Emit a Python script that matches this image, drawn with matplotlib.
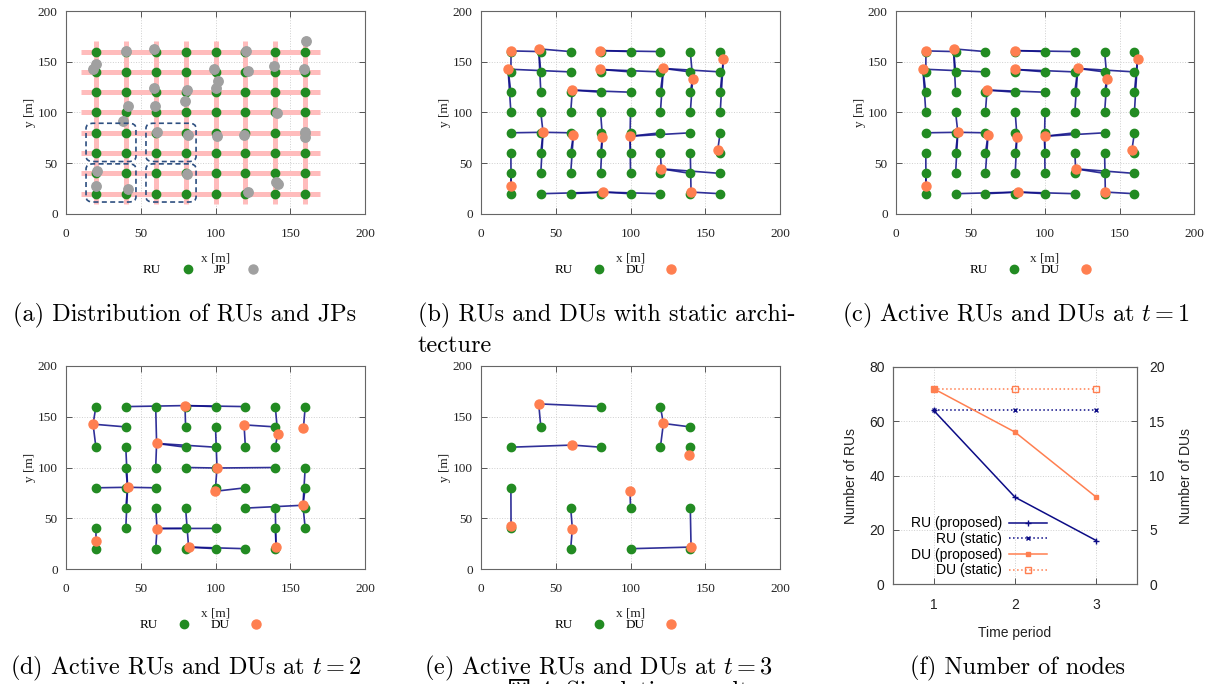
import matplotlib
matplotlib.use("Agg")
import matplotlib.pyplot as plt
from matplotlib.lines import Line2D
from matplotlib.patches import FancyBboxPatch

# ---- data ----
grid_x = [20, 40, 60, 80, 100, 120, 140, 160]
grid_y = [160, 140, 120, 100, 80, 60, 40, 20]   # rows, top to bottom
fiber_min, fiber_max = 10, 170

# join points (panel a)
jp_x = [160.3, 40.1, 58.9, 120.2, 18.3, 19.8, 99.2, 122.0, 138.9, 159.4, 101.9, 100.3,
        58.9, 80.9, 79.8, 41.7, 59.5, 38.4, 140.9, 60.6, 81.8, 101.0, 118.8, 159.6,
        160.1, 20.5, 80.7, 140.5, 142.0, 20.3, 41.7, 122.0]
jp_y = [170.5, 160.7, 162.7, 160.7, 142.7, 147.3, 142.4, 140.8, 146.0, 142.4, 130.6, 123.7,
        124.4, 122.1, 111.6, 106.7, 106.1, 92.0, 99.8, 80.9, 77.6, 76.9, 77.6, 80.9,
        76.3, 42.2, 39.9, 31.4, 30.0, 27.8, 24.5, 21.6]

# dashed cluster boxes (panel a)
box_x0 = [13.4, 53.5, 13.4, 53.5]
box_x1 = [46.8, 87.0, 46.8, 87.0]
box_y0 = [51.7, 51.7, 11.8, 11.8]
box_y1 = [89.4, 89.4, 49.4, 49.4]

# static architecture / t=1 : DU positions and serving DU (1-based) of every grid RU
du_static_x = [20.1, 38.6, 79.8, 18.1, 79.8, 122.0, 162.1, 141.6, 61.1, 41.5, 61.8, 81.2,
               99.7, 158.3, 120.6, 20.1, 81.8, 140.5]
du_static_y = [160.7, 162.7, 161.0, 142.7, 142.4, 143.4, 152.5, 133.2, 122.1, 80.5, 77.9, 76.3,
               76.6, 62.8, 44.5, 27.8, 21.6, 21.6]
ru_du_static = [
    [1, 1, 2, 3, 3, 3, 8, 7],
    [1, 2, 4, 5, 5, 5, 6, 6],
    [4, 2, 9, 9, 9, 6, 8, 7],
    [4, 10, 9, 12, 13, 6, 8, 7],
    [10, 10, 10, 12, 13, 13, 13, 14],
    [16, 10, 11, 12, 13, 15, 18, 14],
    [16, 10, 11, 12, 13, 15, 15, 15],
    [16, 17, 17, 17, 17, 17, 18, 18],
]

# t = 2
t2_ru_x = [20, 40, 60, 80, 100, 120, 140, 160,
           40, 80, 100, 140,
           20, 40, 80, 100, 120, 140,
           40, 60, 80, 100, 140, 160,
           20, 40, 60, 100, 120, 160,
           40, 60, 80, 120, 140, 160,
           20, 40, 80, 100, 140, 160,
           20, 60, 80, 100, 120, 140]
t2_ru_y = [160] * 8 + [140] * 4 + [120] * 6 + [100] * 6 + [80] * 6 + [60] * 6 + [40] * 6 + [20] * 6
t2_ru_du = [1, 2, 3, 2, 2, 2, 5, 6,
            1, 2, 7, 4,
            1, 8, 3, 3, 4, 5,
            8, 3, 7, 7, 7, 10,
            8, 8, 8, 7, 9, 10,
            8, 11, 13, 10, 14, 10,
            12, 8, 11, 11, 14, 10,
            12, 11, 13, 13, 13, 14]
t2_du_x = [18.1, 79.6, 60.6, 119.1, 141.6, 158.8, 101.0, 41.2, 99.9, 158.5, 60.9, 20.1, 82.0, 140.5]
t2_du_y = [142.7, 161.0, 123.7, 142.0, 133.2, 138.5, 99.5, 80.5, 76.6, 62.8, 39.9, 27.8, 21.6, 21.6]

# t = 3
t3_ru_x = [80, 40, 20, 80, 120, 140, 120, 140, 20, 20, 60, 60, 100, 100, 140, 140]
t3_ru_y = [160, 140, 120, 120, 160, 140, 120, 120, 80, 40, 60, 20, 60, 20, 60, 20]
t3_ru_du = [1, 1, 2, 2, 3, 3, 3, 4, 5, 5, 6, 6, 7, 8, 8, 8]
t3_du_x = [38.6, 61.1, 122.0, 139.4, 20.1, 61.1, 99.7, 140.5]
t3_du_y = [162.7, 122.1, 143.4, 112.6, 41.9, 39.9, 76.6, 21.6]

# panel f
periods = [1, 2, 3]
ru_proposed = [64, 32, 16]
ru_static = [64, 64, 64]
du_proposed = [18, 14, 8]
du_static = [18, 18, 18]

GREEN = '#228b22'
ORANGE = '#ff7f50'
GRAY = '#a0a0a0'
NAVY = '#0c0c86'
SERIF = 'Liberation Serif'
SANS = 'Liberation Sans'

plt.rcParams['mathtext.fontset'] = 'cm'
plt.rcParams['font.family'] = SERIF

W, H = 1216, 684
fig = plt.figure(figsize=(W / 100, H / 100), dpi=100)


def px_axes(l, t, r, b):
    return fig.add_axes([l / W, 1 - b / H, (r - l) / W, (b - t) / H])


def style_map(ax, second_label, second_color):
    ax.set_xlim(0, 200)
    ax.set_ylim(0, 200)
    ax.set_xticks(range(0, 201, 50))
    ax.set_yticks(range(0, 201, 50))
    ax.tick_params(direction='in', top=True, right=True, length=4, width=0.7,
                   color='#555555', labelsize=9.5, labelcolor='#222222')
    ax.tick_params(axis='x', pad=10)
    ax.tick_params(axis='y', pad=6)
    ax.grid(True, ls=':', color='#cfcfcf', lw=0.7)
    ax.set_axisbelow(True)
    for s in ax.spines.values():
        s.set_color('#666666')
        s.set_linewidth(0.8)
    ax.set_xlabel('x [m]', fontsize=9.5, labelpad=9, color='#222222')
    ax.set_ylabel('y [m]', fontsize=9.5, labelpad=1, color='#222222')
    handles = [Line2D([], [], ls='', marker='o', ms=6, color=GREEN),
               Line2D([], [], ls='', marker='o', ms=6.5, color=second_color)]
    ax.legend(handles, ['RU', second_label], ncol=2, markerfirst=False, frameon=False,
              loc='center', bbox_to_anchor=(0.45, -0.276), fontsize=9.5,
              handlelength=0.8, handletextpad=1.6, columnspacing=1.6, borderpad=0)


def draw_network(ax, rx, ry, rdu, dx, dy):
    for x, y, d in zip(rx, ry, rdu):
        ax.plot([x, dx[d - 1]], [y, dy[d - 1]], color=NAVY, lw=1.2, alpha=0.85, zorder=2)
    ax.plot(rx, ry, ls='', marker='o', ms=6, color=GREEN, zorder=3)
    ax.plot(dx, dy, ls='', marker='o', ms=6.5, color=ORANGE, zorder=4)


# flat lists for static grid
st_ru_x, st_ru_y, st_ru_du = [], [], []
for i, gy in enumerate(grid_y):
    for j, gx in enumerate(grid_x):
        st_ru_x.append(gx)
        st_ru_y.append(gy)
        st_ru_du.append(ru_du_static[i][j])

# (a)
ax_a = px_axes(66, 11, 365, 214)
for g in grid_y:
    ax_a.plot([fiber_min, fiber_max], [g, g], color='#ffbcbc', lw=3.6, zorder=1, solid_capstyle='butt')
for g in grid_x:
    ax_a.plot([g, g], [fiber_min, fiber_max], color='#ffbcbc', lw=3.6, zorder=1, solid_capstyle='butt')
for x0, x1, y0, y1 in zip(box_x0, box_x1, box_y0, box_y1):
    ax_a.add_patch(FancyBboxPatch((x0, y0), x1 - x0, y1 - y0,
                                  boxstyle='round,pad=0,rounding_size=5',
                                  fill=False, ec='#2d4f80', lw=1.2, ls=(0, (3, 2)), zorder=5))
ax_a.plot(st_ru_x, st_ru_y, ls='', marker='o', ms=6, color=GREEN, zorder=3)
ax_a.plot(jp_x, jp_y, ls='', marker='o', ms=6.8, color=GRAY, zorder=4)
style_map(ax_a, 'JP', GRAY)

# (b) and (c)
ax_b = px_axes(481, 11, 780, 214)
draw_network(ax_b, st_ru_x, st_ru_y, st_ru_du, du_static_x, du_static_y)
style_map(ax_b, 'DU', ORANGE)

ax_c = px_axes(896, 11, 1194, 214)
draw_network(ax_c, st_ru_x, st_ru_y, st_ru_du, du_static_x, du_static_y)
style_map(ax_c, 'DU', ORANGE)

# (d)
ax_d = px_axes(66, 366, 365, 569)
draw_network(ax_d, t2_ru_x, t2_ru_y, t2_ru_du, t2_du_x, t2_du_y)
style_map(ax_d, 'DU', ORANGE)

# (e)
ax_e = px_axes(481, 366, 780, 569)
draw_network(ax_e, t3_ru_x, t3_ru_y, t3_ru_du, t3_du_x, t3_du_y)
style_map(ax_e, 'DU', ORANGE)

# (f)
ax_f = px_axes(893, 367, 1137, 584)
ax_g = ax_f.twinx()
l1, = ax_f.plot(periods, ru_proposed, color=NAVY, lw=1.1, marker='+', ms=4, mew=1)
l2, = ax_f.plot(periods, ru_static, color=NAVY, lw=1.1, ls=':', marker='x', ms=3.5, mew=1)
l3, = ax_g.plot(periods, du_proposed, color=ORANGE, lw=1.1, marker='s', ms=3)
l4, = ax_g.plot(periods, du_static, color=ORANGE, lw=1.1, ls=':', marker='s', ms=4.5, mfc='none', mew=1)
ax_f.set_xlim(0.5, 3.5)
ax_f.set_ylim(0, 80)
ax_g.set_ylim(0, 20)
ax_f.set_xticks(periods)
ax_f.set_yticks(range(0, 81, 20))
ax_g.set_yticks(range(0, 21, 5))
ax_f.grid(True, ls=':', color='#cfcfcf', lw=0.7)
ax_f.set_axisbelow(True)
for a in (ax_f, ax_g):
    a.tick_params(direction='in', length=4, width=0.7, color='#555555', labelsize=10,
                  labelcolor='#222222')
    for lab in a.get_xticklabels() + a.get_yticklabels():
        lab.set_fontfamily(SANS)
    for s in a.spines.values():
        s.set_color('#666666')
        s.set_linewidth(0.8)
ax_f.tick_params(axis='x', pad=10)
ax_f.tick_params(axis='y', pad=6)
ax_g.tick_params(axis='y', pad=9)
ax_f.set_xlabel('Time period', fontfamily=SANS, fontsize=10, labelpad=10, color='#222222')
ax_f.set_ylabel('Number of RUs', fontfamily=SANS, fontsize=10, labelpad=8, color='#222222')
ax_g.set_ylabel('Number of DUs', fontfamily=SANS, fontsize=10, labelpad=10, color='#222222')
ax_g.legend([l1, l2, l3, l4], ['RU (proposed)', 'RU (static)', 'DU (proposed)', 'DU (static)'],
            loc='lower right', bbox_to_anchor=(0.631, 0.03), frameon=False, markerfirst=False,
            prop={'family': SANS, 'size': 10}, handlelength=2.7, handletextpad=0.55,
            labelspacing=0.12, borderpad=0, borderaxespad=0)

# captions
CAP = dict(fontfamily='cmr10', fontsize=17.5, va='center', color='black')
fig.text(185 / W, 1 - 315 / H, '(a) Distribution of RUs and JPs', ha='center', **CAP)
fig.text(418 / W, 1 - 315 / H, '(b) RUs and DUs with static archi-', ha='left', **CAP)
fig.text(418 / W, 1 - 346 / H, 'tecture', ha='left', **CAP)
fig.text(1016 / W, 1 - 315 / H, '(c) Active RUs and DUs at $t = 1$', ha='center', **CAP)
fig.text(186 / W, 1 - 668 / H, '(d) Active RUs and DUs at $t = 2$', ha='center', **CAP)
fig.text(599 / W, 1 - 668 / H, '(e) Active RUs and DUs at $t = 3$', ha='center', **CAP)
fig.text(1017 / W, 1 - 668 / H, '(f) Number of nodes', ha='center', **CAP)
# figure caption, cut off by the bottom edge as in the source page
fig.text(633 / W, 1 - 681 / H, '図 4: Simulation results', ha='center', va='top',
         fontfamily=['cmr10', 'Noto Sans CJK JP'], fontsize=17.5)

fig.savefig('out.png', dpi=100)
